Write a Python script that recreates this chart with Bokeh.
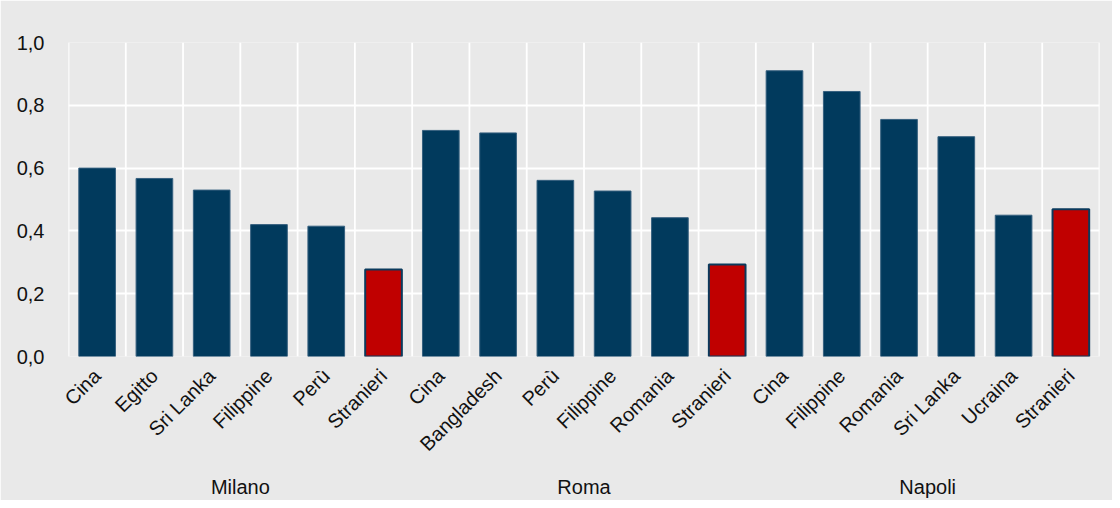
from math import pi
from bokeh.plotting import figure
from bokeh.models import FactorRange, Range1d, FixedTicker, CustomJSTickFormatter, ColumnDataSource
from bokeh.embed import file_html
from bokeh.resources import INLINE

cities = ["Milano", "Roma", "Napoli"]
milano_countries = ["Cina", "Egitto", "Sri Lanka", "Filippine", "Perù", "Stranieri"]
milano_values = [0.600, 0.567, 0.530, 0.420, 0.415, 0.277]
roma_countries = ["Cina", "Bangladesh", "Perù", "Filippine", "Romania", "Stranieri"]
roma_values = [0.720, 0.712, 0.561, 0.527, 0.442, 0.293]
napoli_countries = ["Cina", "Filippine", "Romania", "Sri Lanka", "Ucraina", "Stranieri"]
napoli_values = [0.910, 0.844, 0.755, 0.700, 0.450, 0.469]
y_ticks = [0.0, 0.2, 0.4, 0.6, 0.8, 1.0]

BLUE = "#013a5d"
RED = "#c00000"
BG = "#e9e9e9"
FONT = "Liberation Sans"

groups = [milano_countries, roma_countries, napoli_countries]
vals = [milano_values, roma_values, napoli_values]
factors, tops = [], []
for city, cs, vs in zip(cities, groups, vals):
    for c, v in zip(cs, vs):
        factors.append((city, c))
        tops.append(v)

fill = [RED if f[1] == "Stranieri" else BLUE for f in factors]
edge = ["#0b3a5c" if f[1] == "Stranieri" else "#36607f" for f in factors]
lw = [2.0 if f[1] == "Stranieri" else 1.0 for f in factors]

src = ColumnDataSource(dict(x=factors, top=tops, fill=fill, edge=edge, lw=lw))

p = figure(width=1112, height=500, output_backend="svg", toolbar_location=None,
           x_range=FactorRange(*factors, group_padding=0, factor_padding=0, range_padding=0),
           y_range=Range1d(0, 1),
           min_border_left=68, min_border_right=13, min_border_top=42, min_border_bottom=142)
p.background_fill_color = BG
p.border_fill_color = BG
p.outline_line_color = None

# vertical grid lines at category boundaries
bx = [(f[0], f[1], -0.5) for f in factors] + [(factors[-1][0], factors[-1][1], 0.5)]
p.segment(x0=bx, x1=bx, y0=[y_ticks[0]] * len(bx), y1=[y_ticks[-1]] * len(bx),
          line_color="white", line_width=1.8)

p.vbar(x="x", top="top", width=0.64, source=src, fill_color="fill",
       line_color="edge", line_width="lw")

p.xgrid.grid_line_color = None
p.ygrid.ticker = FixedTicker(ticks=y_ticks)
p.ygrid.grid_line_color = "white"
p.ygrid.grid_line_width = 1.8

p.yaxis.ticker = FixedTicker(ticks=y_ticks)
p.yaxis.formatter = CustomJSTickFormatter(code="return tick.toFixed(1).replace('.', ',')")
p.yaxis.axis_line_color = None
p.yaxis.major_tick_line_color = None
p.yaxis.minor_tick_line_color = None
p.yaxis.major_label_standoff = 18
p.yaxis.major_label_text_font = FONT
p.yaxis.major_label_text_font_size = "20px"
p.yaxis.major_label_text_color = "#111111"

p.xaxis.axis_line_color = None
p.xaxis.major_tick_line_color = None
p.xaxis.minor_tick_line_color = None
p.xaxis.separator_line_color = None
p.xaxis.major_label_orientation = pi / 4
p.xaxis.major_label_standoff = 10
p.xaxis.major_label_text_font = FONT
p.xaxis.major_label_text_font_size = "20px"
p.xaxis.major_label_text_color = "#111111"
p.xaxis.group_text_font = FONT
p.xaxis.group_text_font_size = "20px"
p.xaxis.group_text_font_style = "normal"
p.xaxis.group_text_color = "#111111"

open("out.html", "w").write(file_html(p, INLINE))
